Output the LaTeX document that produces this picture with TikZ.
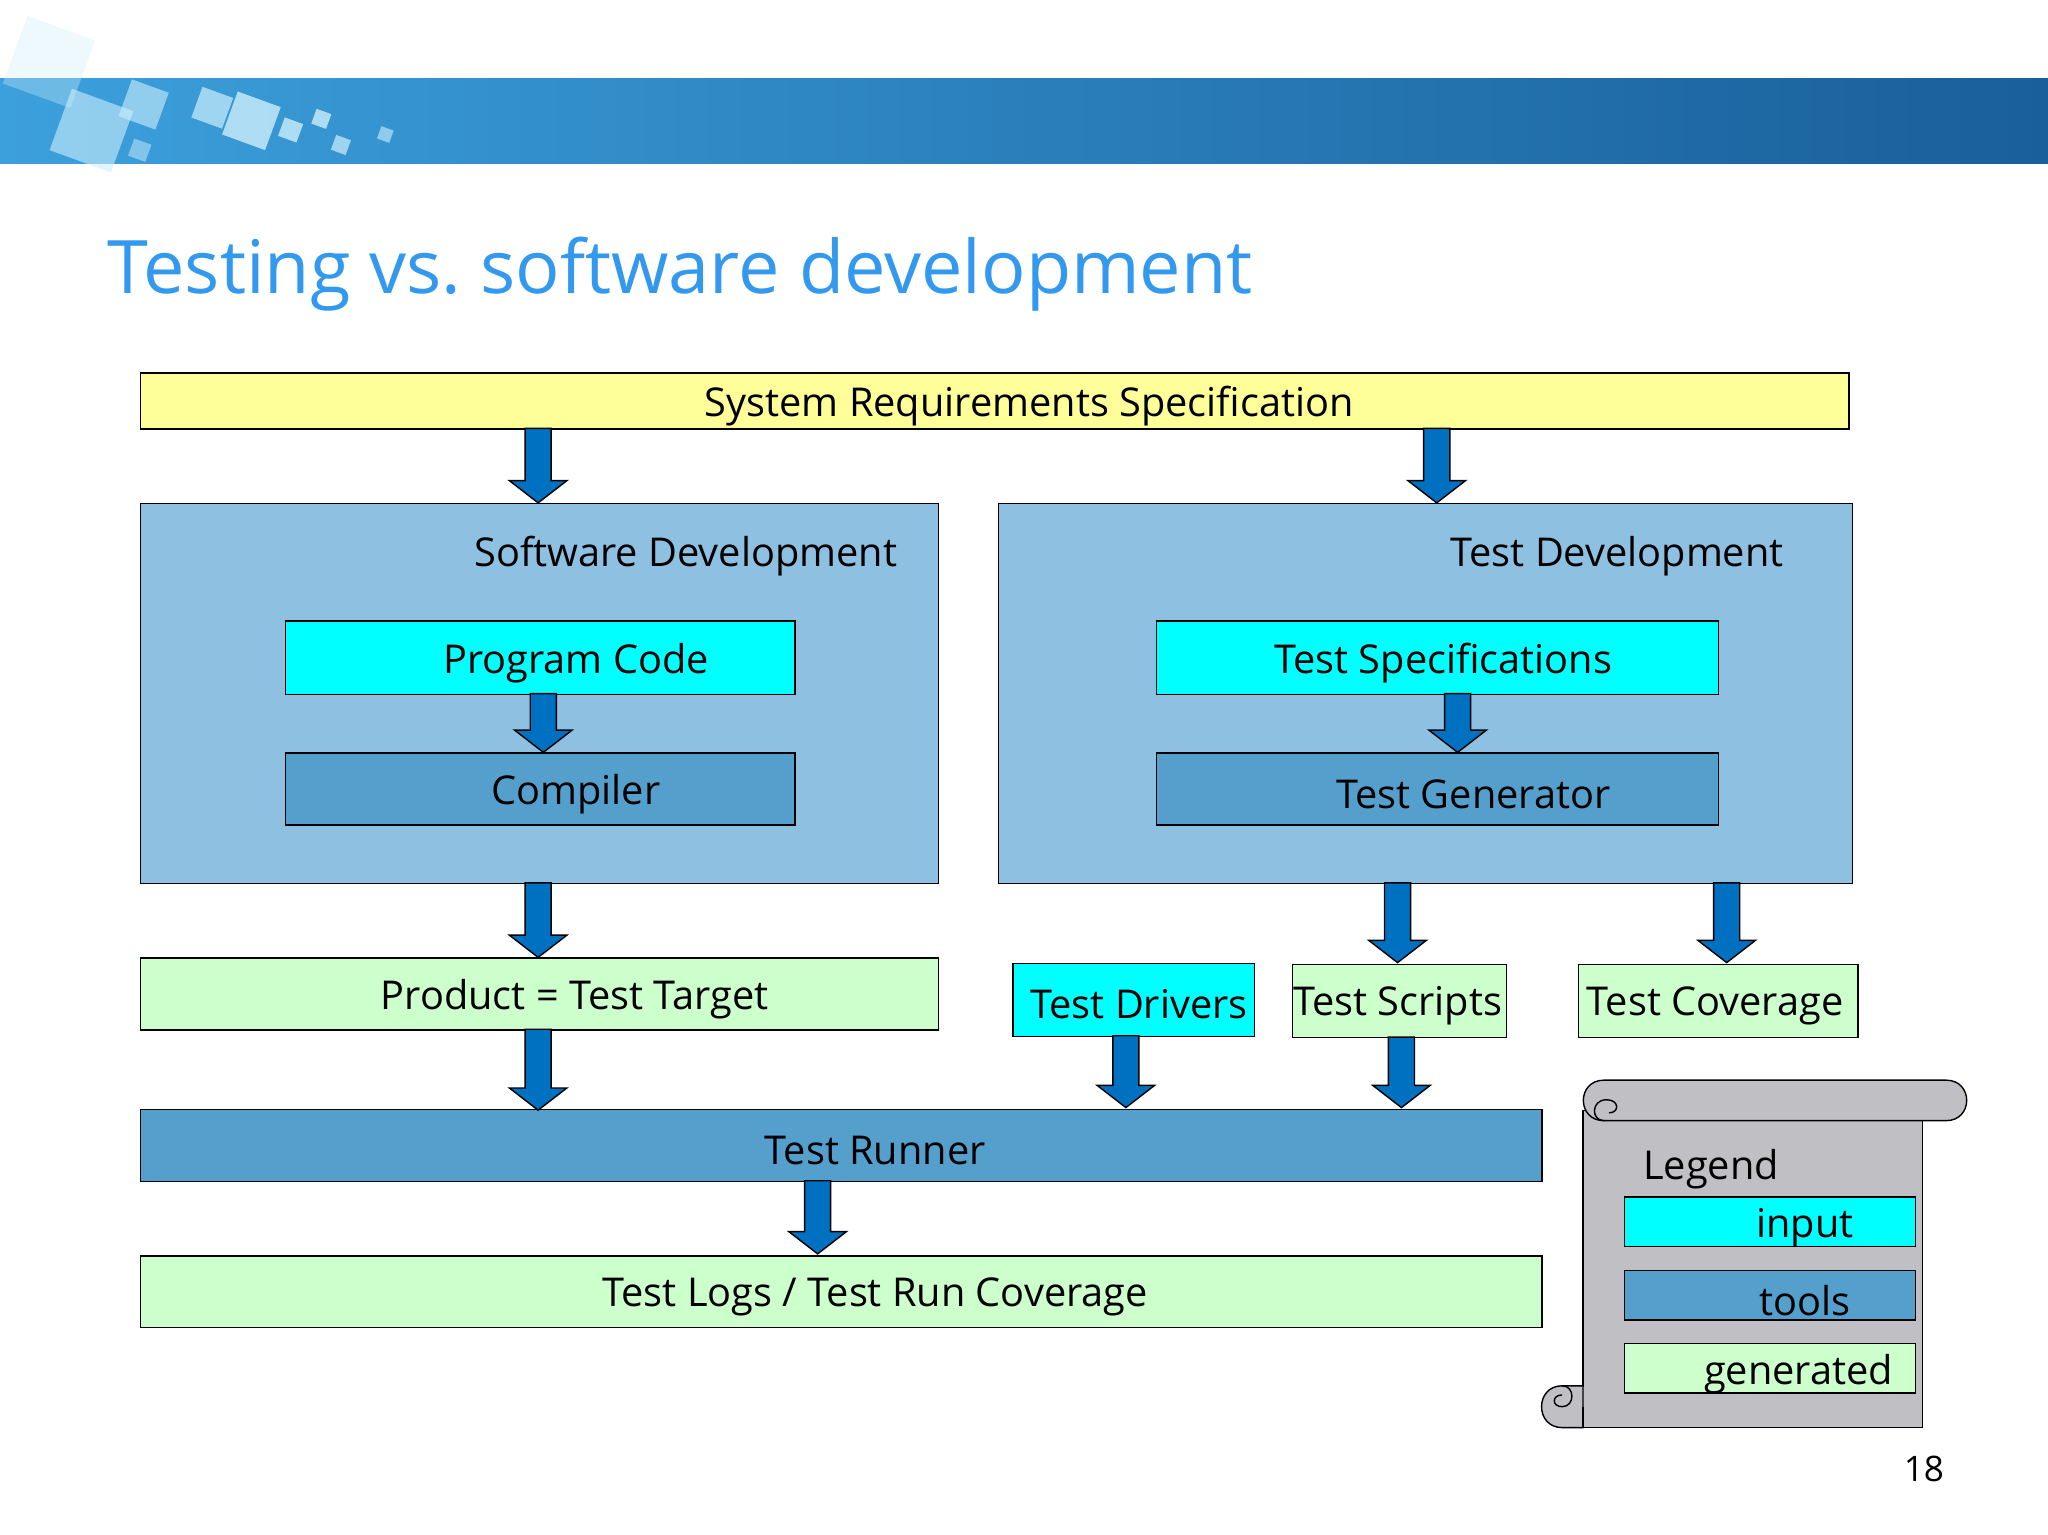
\documentclass[tikz,border=0pt]{standalone}
\usepackage{fontspec}
\setmainfont{Open Sans}
\usetikzlibrary{calc}
\definecolor{yel}{HTML}{FFFF99}
\definecolor{grp}{HTML}{8EC0E2}
\definecolor{inp}{HTML}{00FFFF}
\definecolor{tool}{HTML}{549FCC}
\definecolor{gen}{HTML}{CCFFCC}
\definecolor{arr}{HTML}{0070C0}
\definecolor{ttl}{HTML}{3399EE}
\definecolor{scroll}{HTML}{C0C0C4}
\newcommand{\fatarrow}[3]{%
  \draw[fill=arr,thin] (#1-10,#2) -- (#1+10,#2) -- (#1+10,#3-17) -- (#1+22,#3-17)
    -- (#1,#3) -- (#1-22,#3-17) -- (#1-10,#3-17) -- cycle;}
\begin{document}
\begin{tikzpicture}[x=0.013061cm,y=-0.013061cm,
  box/.style={draw,thin,inner sep=0pt,anchor=north west},
  lbl/.style={font=\fontsize{11.3}{14}\selectfont,yshift=-3*0.013061cm}]
\useasboundingbox (0,0) rectangle (1568,1175);
\fill[white] (0,0) rectangle (1568,1175);
% banner
\shade[left color={rgb,255:red,60;green,160;blue,220}, right color={rgb,255:red,25;green,95;blue,155}] (0,60) rectangle (1568,125);
\foreach \x/\y/\s/\o in {10/20/55/0.35,45/75/50/0.6,95/65/30/0.6,150/70/25/0.7,175/75/35/0.8,215/92/15/0.8,240/85/12/0.8,255/105/12/0.7,290/98/10/0.6,100/108/14/0.5}
  \fill[white!80!cyan,opacity=\o,rotate around={-20:(\x+\s/2,\y+\s/2)}] (\x,\y) rectangle ++(\s,\s);
\node[anchor=base west,text=ttl,font=\fontsize{21}{25}\selectfont,inner sep=0pt] (title) at (82,225) {Testing vs.\ software development};
% boxes
\node[box,fill=yel,minimum width=1308*0.013061cm,minimum height=43*0.013061cm] (srs) at (107,285) {};
\node[lbl] at (788,308) {System Requirements Specification};
\node[box,fill=grp,minimum width=611*0.013061cm,minimum height=291*0.013061cm] (sd) at (107,385) {};
\node[lbl] at (525,423) {Software Development};
\node[box,fill=grp,minimum width=654*0.013061cm,minimum height=291*0.013061cm] (td) at (764,385) {};
\node[lbl] at (1238,423) {Test Development};
\node[box,fill=inp,minimum width=390*0.013061cm,minimum height=56*0.013061cm] (pc) at (218,475) {};
\node[lbl] at (441,505) {Program Code};
\node[box,fill=tool,minimum width=390*0.013061cm,minimum height=55*0.013061cm] (cc) at (218,576) {};
\node[lbl] at (441,605) {Compiler};
\node[box,fill=inp,minimum width=430*0.013061cm,minimum height=56*0.013061cm] (ts) at (885,475) {};
\node[lbl] at (1105,505) {Test Specifications};
\node[box,fill=tool,minimum width=430*0.013061cm,minimum height=55*0.013061cm] (tg) at (885,576) {};
\node[lbl] at (1128,605) {Test Generator};
\node[box,fill=gen,minimum width=611*0.013061cm,minimum height=55*0.013061cm] (pt) at (107,733) {};
\node[lbl] at (440,762) {Product = Test Target};
\node[box,fill=inp,minimum width=185*0.013061cm,minimum height=56*0.013061cm] (dr) at (775,737) {};
\node[lbl] at (872,766) {Test Drivers};
\node[box,fill=gen,minimum width=164*0.013061cm,minimum height=56*0.013061cm] (sc) at (989,738) {};
\node[lbl] at (1070,767) {Test Scripts};
\node[box,fill=gen,minimum width=214*0.013061cm,minimum height=56*0.013061cm] (cv) at (1208,738) {};
\node[lbl] at (1313,767) {Test Coverage};
\node[box,fill=tool,minimum width=1073*0.013061cm,minimum height=55*0.013061cm] (tr) at (107,849) {};
\node[lbl] at (670,878) {Test Runner};
\node[box,fill=gen,minimum width=1073*0.013061cm,minimum height=55*0.013061cm] (tl) at (107,961) {};
\node[lbl] at (670,990) {Test Logs / Test Run Coverage};
% arrows
\fatarrow{412}{328}{385}
\fatarrow{1100}{328}{385}
\fatarrow{416}{531}{576}
\fatarrow{1116}{531}{576}
\fatarrow{412}{676}{733}
\fatarrow{1070}{676}{737}
\fatarrow{1322}{676}{737}
\fatarrow{412}{788}{850}
\fatarrow{862}{793}{848}
\fatarrow{1073}{794}{848}
\fatarrow{626}{904}{960}
% legend scroll
\draw[fill=scroll,thin] (1212,850) -- (1472,850) -- (1472,1093) -- (1196,1093) -- (1196,1061) -- (1212,1061) -- cycle;
\draw[fill=scroll,thin] (1228,827) -- (1490,827) .. controls (1511,827) and (1511,858) .. (1490,858)
  -- (1228,858) .. controls (1207,858) and (1207,827) .. (1228,827) -- cycle;
\draw[thin] (1228,858) .. controls (1218,858) and (1218,842) .. (1230,842) .. controls (1240,842) and (1240,852) .. (1232,852);
\draw[fill=scroll,thin] (1196,1061) .. controls (1175,1061) and (1175,1093) .. (1196,1093) -- (1212,1093) -- (1212,1061) -- cycle;
\draw[thin] (1196,1061) .. controls (1206,1061) and (1206,1077) .. (1196,1077) .. controls (1188,1077) and (1188,1068) .. (1196,1068);
\draw[thin] (1196,1093) -- (1212,1093) -- (1212,1077);
\node[lbl] at (1310,892) {Legend};
\node[box,fill=inp,minimum width=223*0.013061cm,minimum height=38*0.013061cm] (li) at (1243,916) {};
\node[lbl] at (1382,937) {input};
\node[box,fill=tool,minimum width=223*0.013061cm,minimum height=38*0.013061cm] (lt) at (1243,972) {};
\node[lbl] at (1382,993) {tools};
\node[box,fill=gen,minimum width=223*0.013061cm,minimum height=38*0.013061cm] (lg) at (1243,1028) {};
\node[lbl] at (1377,1049) {generated};
\node[font=\fontsize{10}{12}\selectfont] at (1473,1125) {18};
\end{tikzpicture}
\end{document}
